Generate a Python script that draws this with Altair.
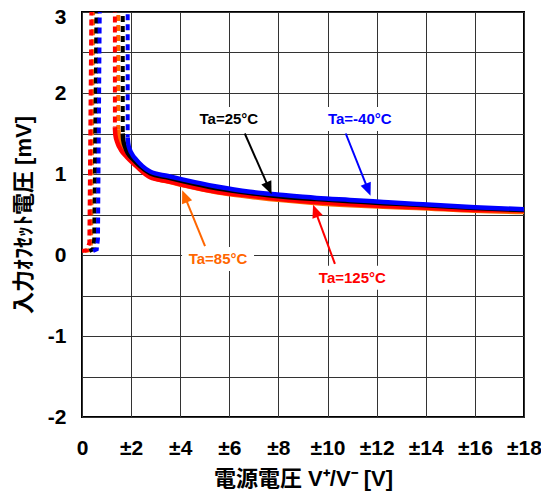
import math
import altair as alt
import pandas as pd

# ---------------- data ----------------
series = ["Ta=-40°C", "Ta=25°C", "Ta=85°C", "Ta=125°C"]
colors = ["#0000FF", "#000000", "#FF6600", "#FF0000"]

# start-up (dashed) part: supply voltage [V] / offset [mV]
dash_v = {
    "Ta=-40°C": [0.45, 0.60, 0.65, 0.73, 1.86, 1.86],
    "Ta=25°C":  [0.30, 0.45, 0.50, 0.60, 1.66, 1.66],
    "Ta=85°C":  [0.10, 0.30, 0.37, 0.46, 1.48, 1.48],
    "Ta=125°C": [0.00, 0.20, 0.30, 0.39, 1.34, 1.34],
}
dash_mv = {
    "Ta=-40°C": [0.05, 0.07, 0.20, 3.30, 3.30, 1.45],
    "Ta=25°C":  [0.05, 0.07, 0.20, 3.30, 3.30, 1.50],
    "Ta=85°C":  [0.05, 0.06, 0.15, 3.30, 3.30, 1.55],
    "Ta=125°C": [0.05, 0.06, 0.15, 3.30, 3.30, 1.58],
}

# operating (solid) part
solid_v = {
    "Ta=-40°C": [1.86, 1.88, 1.95, 2.05, 2.20, 2.45, 2.77, 3.5, 4.13, 5.48, 6.84, 8.2, 9.56, 10.91, 12.27, 13.63, 16.0, 18.0],
    "Ta=25°C":  [1.66, 1.68, 1.76, 1.88, 2.05, 2.35, 2.77, 3.5, 4.13, 5.48, 6.84, 8.2, 9.56, 10.91, 12.27, 13.63, 16.0, 18.0],
    "Ta=85°C":  [1.48, 1.50, 1.58, 1.72, 1.90, 2.25, 2.77, 3.5, 4.13, 5.48, 6.84, 8.2, 9.56, 10.91, 12.27, 13.63, 16.0, 18.0],
    "Ta=125°C": [1.34, 1.36, 1.45, 1.60, 1.82, 2.20, 2.77, 3.5, 4.13, 5.48, 6.84, 8.2, 9.56, 10.91, 12.27, 13.63, 16.0, 18.0],
}
solid_mv = {
    "Ta=-40°C": [1.45, 1.38, 1.30, 1.24, 1.18, 1.10, 1.03, 0.975, 0.93, 0.845, 0.78, 0.74, 0.705, 0.68, 0.655, 0.63, 0.59, 0.565],
    "Ta=25°C":  [1.50, 1.42, 1.33, 1.25, 1.19, 1.10, 1.01, 0.955, 0.91, 0.825, 0.765, 0.72, 0.69, 0.665, 0.64, 0.62, 0.58, 0.555],
    "Ta=85°C":  [1.55, 1.46, 1.37, 1.28, 1.21, 1.11, 0.97, 0.905, 0.86, 0.775, 0.72, 0.675, 0.64, 0.615, 0.595, 0.58, 0.545, 0.53],
    "Ta=125°C": [1.58, 1.48, 1.38, 1.29, 1.21, 1.10, 0.96, 0.91, 0.865, 0.78, 0.73, 0.685, 0.65, 0.627, 0.605, 0.59, 0.556, 0.55],
}

# annotations
label_text = ["Ta=25°C", "Ta=-40°C", "Ta=85°C", "Ta=125°C"]
label_color = ["#000000", "#0000FF", "#FF6600", "#FF0000"]
label_v = [5.98, 11.31, 5.54, 11.01]
label_mv = [1.68, 1.68, -0.05, -0.28]
label_halfwidth_px = [36, 39, 36, 41]
arrow_tail_v = [6.63, 10.74, 5.01, 10.30]
arrow_tail_mv = [1.50, 1.50, 0.11, -0.11]
arrow_tip_v = [7.72, 11.75, 4.08, 9.41]
arrow_tip_mv = [0.75, 0.73, 0.80, 0.62]

x_ticks = [0, 2, 4, 6, 8, 10, 12, 14, 16, 18]
y_ticks = [-2, -1.5, -1, -0.5, 0, 0.5, 1, 1.5, 2, 2.5, 3]

# ---------------- layout ----------------
W, H = 442, 405
XMIN, XMAX = 0, 18
YMIN, YMAX = -2, 3
PXV = W / (XMAX - XMIN)
PXY = H / (YMAX - YMIN)
FONT = "Liberation Sans, Noto Sans CJK JP"

xscale = alt.Scale(domain=[XMIN, XMAX], nice=False, zero=False)
yscale = alt.Scale(domain=[YMIN, YMAX], nice=False, zero=False)

xaxis = alt.Axis(values=x_ticks, grid=True, ticks=False, domain=False, labelOverlap=False,
                 labelFlush=False,
                 labelExpr="datum.value == 0 ? '0' : '±' + datum.value",
                 title="電源電圧 V⁺/V⁻ [V]",
                 titleX=W / 2, titleY=68, titleBaseline="alphabetic", titleAlign="center")
yaxis = alt.Axis(values=y_ticks, grid=True, ticks=False, domain=False, labelOverlap=False,
                 labelFlush=False,
                 labelOffset={"condition": {"test": f"datum.value == {YMAX}", "value": 5}, "value": 0},
                 labelExpr="datum.value % 1 == 0 ? '' + datum.value : ''",
                 title="入力ｵﾌｾｯﾄ電圧 [mV]",
                 titleX=-59, titleY=H / 2, titleBaseline="middle", titleAlign="center", titleAngle=270)

layers = []

# white boxes behind labels
box_rows = []
for t, v, mv, hw in zip(label_text, label_v, label_mv, label_halfwidth_px):
    box_rows.append(dict(x=v - hw / PXV, x2=v + hw / PXV,
                         y=mv - 12 / PXY, y2=mv + 12 / PXY))
boxes = alt.Chart(pd.DataFrame(box_rows)).mark_rect(color="white").encode(
    x=alt.X("x:Q", scale=xscale, axis=xaxis), x2="x2:Q",
    y=alt.Y("y:Q", scale=yscale, axis=yaxis), y2="y2:Q")
layers.append(boxes)

draw_order = ["Ta=85°C", "Ta=125°C", "Ta=25°C", "Ta=-40°C"]
cmap = dict(zip(series, colors))
for s in draw_order:
    dfd = pd.DataFrame({"v": dash_v[s], "mv": dash_mv[s], "i": range(len(dash_v[s]))})
    layers.append(alt.Chart(dfd).mark_line(
        color=cmap[s], strokeWidth=4, strokeDash=[6, 4], clip=True, strokeCap="butt"
    ).encode(x=alt.X("v:Q", scale=xscale), y=alt.Y("mv:Q", scale=yscale), order="i:Q"))
for s in draw_order:
    dfs = pd.DataFrame({"v": solid_v[s], "mv": solid_mv[s], "i": range(len(solid_v[s]))})
    layers.append(alt.Chart(dfs).mark_line(
        color=cmap[s], strokeWidth=4.5, clip=True, interpolate="monotone"
    ).encode(x=alt.X("v:Q", scale=xscale), y=alt.Y("mv:Q", scale=yscale), order="i:Q"))

# arrows
rule_rows, head_rows = [], []
for tv, tm, hv, hm, c in zip(arrow_tail_v, arrow_tail_mv, arrow_tip_v, arrow_tip_mv, label_color):
    dx = (hv - tv) * PXV
    dy = -(hm - tm) * PXY
    L = math.hypot(dx, dy)
    ux, uy = dx / L, dy / L
    back = 8.0
    ex = hv - back * ux / PXV
    ey = hm + back * uy / PXY
    rule_rows.append(dict(x=tv, y=tm, x2=ex, y2=ey, c=c))
    ang = math.degrees(math.atan2(dx, -dy)) % 360
    head_rows.append(dict(x=hv, y=hm, a=ang, c=c))

rules = alt.Chart(pd.DataFrame(rule_rows)).mark_rule(strokeWidth=2).encode(
    x=alt.X("x:Q", scale=xscale), y=alt.Y("y:Q", scale=yscale), x2="x2:Q", y2="y2:Q",
    color=alt.Color("c:N", scale=None))
heads = alt.Chart(pd.DataFrame(head_rows)).mark_point(
    shape="M0,0L-0.42,1L0.42,1Z", filled=True, opacity=1, size=676, strokeWidth=0
).encode(x=alt.X("x:Q", scale=xscale), y=alt.Y("y:Q", scale=yscale),
         angle=alt.Angle("a:Q", scale=None), color=alt.Color("c:N", scale=None))
texts = alt.Chart(pd.DataFrame(dict(t=label_text, x=label_v, y=label_mv, c=label_color))).mark_text(
    font="Liberation Sans", fontWeight="bold", fontSize=15, baseline="middle", align="center"
).encode(x=alt.X("x:Q", scale=xscale), y=alt.Y("y:Q", scale=yscale), text="t:N",
         color=alt.Color("c:N", scale=None))
layers += [rules, heads, texts]

chart = alt.layer(*layers).properties(
    width=W, height=H, autosize="none",
    padding={"left": 74, "top": 4, "right": 17, "bottom": 74}
).configure_view(stroke="#000", strokeWidth=2
).configure_axis(
    gridColor="#333", gridWidth=1, gridOpacity=1,
    labelFont="Liberation Sans", labelFontWeight="bold", labelFontSize=21, labelColor="#000",
    titleFont=FONT, titleFontWeight="bold", titleFontSize=22, titleColor="#000"
).configure_axisX(labelPadding=20
).configure_axisY(labelPadding=16)

chart.save("out.html", embed_options={"renderer": "svg", "actions": False})
